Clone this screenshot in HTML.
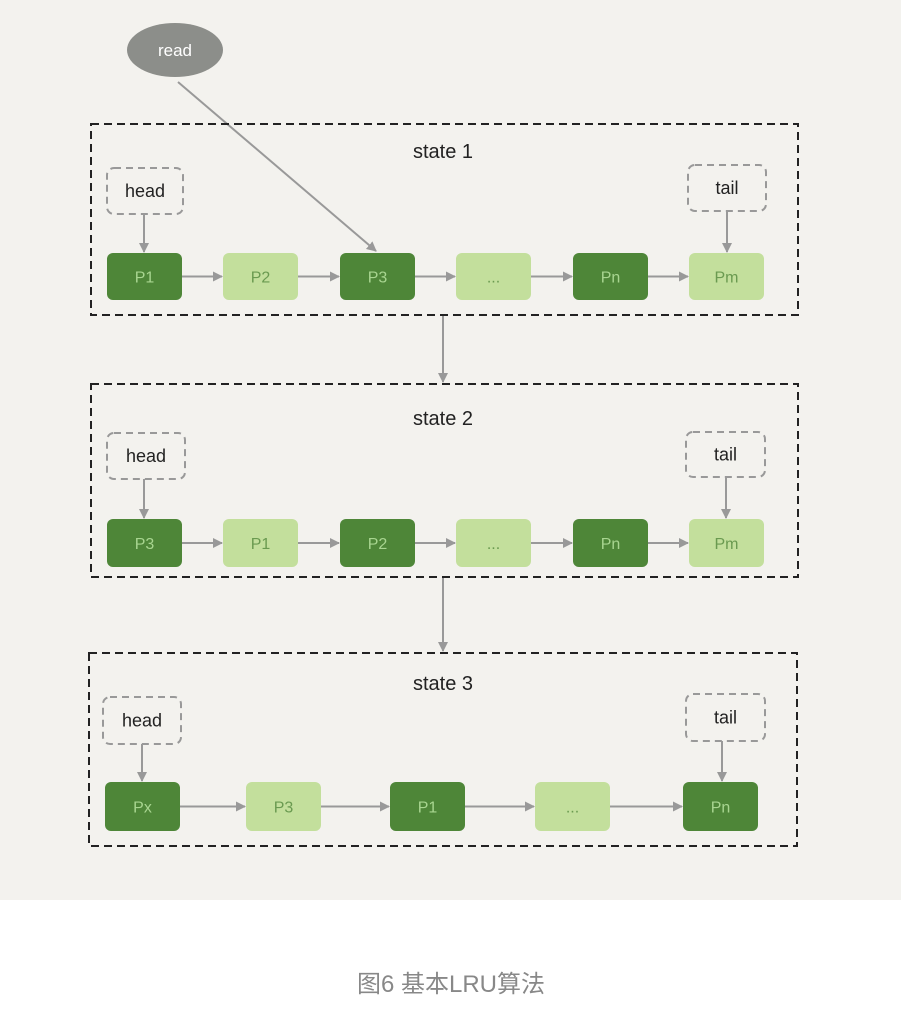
<!DOCTYPE html>
<html><head><meta charset="utf-8"><style>
html,body{margin:0;padding:0;background:#fff;}
body{width:901px;height:1006px;overflow:hidden;}
</style></head><body>
<svg width="901" height="1006" xmlns="http://www.w3.org/2000/svg" font-family="'Liberation Sans','Noto Sans CJK SC',sans-serif">
<defs><marker id="ah" markerWidth="10" markerHeight="10" refX="9" refY="5" orient="auto" markerUnits="userSpaceOnUse"><path d="M0,0 L10,5 L0,10 z" fill="#999"/></marker></defs>
<rect x="0" y="0" width="901" height="900" fill="#f3f2ee"/>
<g id="g"></g>
<text x="451" y="992" text-anchor="middle" font-size="24" fill="#888">图6 基本LRU算法</text>
</svg>
<script>
const NS='http://www.w3.org/2000/svg';
const g=document.getElementById('g');
function el(t,a,txt){const e=document.createElementNS(NS,t);for(const k in a)e.setAttribute(k,a[k]);if(txt!==undefined)e.textContent=txt;g.appendChild(e);return e;}
const DARK='#4e8638',DTXT='#a8d590',LIGHT='#c3df9c',LTXT='#6a9a50';
const states=[
 {label:'state 1',box:[91,124,707,191],ly:158,head:[107,168,76,46],tail:[688,165,78,46],ny:253,nh:47,
  nodes:[['P1',107,1],['P2',223,0],['P3',340,1],['...',456,0],['Pn',573,1],['Pm',689,0]],headTo:144,tailTo:727},
 {label:'state 2',box:[91,384,707,193],ly:425,head:[107,433,78,46],tail:[686,432,79,45],ny:519,nh:48,
  nodes:[['P3',107,1],['P1',223,0],['P2',340,1],['...',456,0],['Pn',573,1],['Pm',689,0]],headTo:144,tailTo:726},
 {label:'state 3',box:[89,653,708,193],ly:690,head:[103,697,78,47],tail:[686,694,79,47],ny:782,nh:49,
  nodes:[['Px',105,1],['P3',246,0],['P1',390,1],['...',535,0],['Pn',683,1]],headTo:142,tailTo:722}
];
// read
let r=el('ellipse',{cx:175,cy:50,rx:48,ry:27,fill:'#8c8e8a'});

let rt=el('text',{x:175,y:56,'text-anchor':'middle','font-size':17,fill:'#fff'},'read');

let ra=el('line',{x1:178,y1:82,x2:376,y2:251,stroke:'#999','stroke-width':2,'marker-end':'url(#ah)'});

// between states
[[316,382],[578,651]].forEach((p,i)=>{let a=el('line',{x1:443,y1:p[0],x2:443,y2:p[1],stroke:'#999','stroke-width':2,'marker-end':'url(#ah)'});
});
states.forEach((s,si)=>{
 let b=el('rect',{x:s.box[0],y:s.box[1],width:s.box[2],height:s.box[3],fill:'none',stroke:'#222','stroke-width':2,'stroke-dasharray':'8,5'});
 
 let t=el('text',{x:443,y:s.ly,'text-anchor':'middle','font-size':20,fill:'#222'},s.label);
 
 [['head',s.head,s.headTo],['tail',s.tail,s.tailTo]].forEach(([n,bb,tx])=>{
  let h=el('rect',{x:bb[0],y:bb[1],width:bb[2],height:bb[3],rx:7,fill:'none',stroke:'#999','stroke-width':2,'stroke-dasharray':'7,5'});
  
  let ht=el('text',{x:bb[0]+bb[2]/2,y:bb[1]+bb[3]/2+6,'text-anchor':'middle','font-size':18,fill:'#222'},n);
  
  let ha=el('line',{x1:tx,y1:bb[1]+bb[3],x2:tx,y2:s.ny-1,stroke:'#999','stroke-width':2,'marker-end':'url(#ah)'});
  
 });
 s.nodes.forEach((nd,i)=>{
  let rr=el('rect',{x:nd[1],y:s.ny,width:75,height:s.nh,rx:6,fill:nd[2]?DARK:LIGHT});
  
  let tt=el('text',{x:nd[1]+37.5,y:s.ny+s.nh/2+6,'text-anchor':'middle','font-size':16,fill:nd[2]?DTXT:LTXT},nd[0]);
  
  if(i<s.nodes.length-1){
   let a=el('line',{x1:nd[1]+75,y1:s.ny+s.nh/2,x2:s.nodes[i+1][1]-1,y2:s.ny+s.nh/2,stroke:'#999','stroke-width':2,'marker-end':'url(#ah)'});
   
  }
 });
});
</script>
</body></html>
